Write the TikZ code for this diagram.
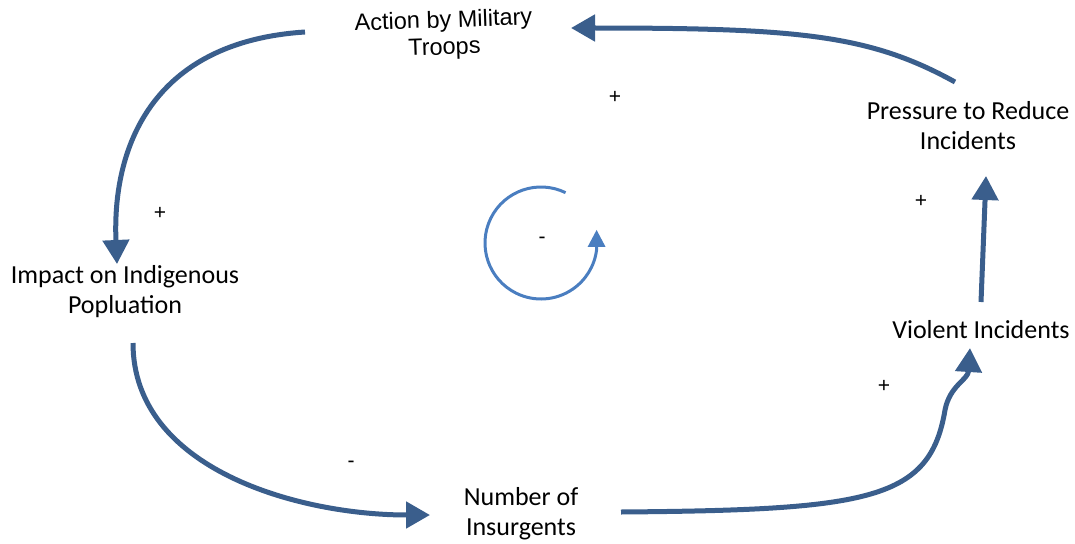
\documentclass[tikz,border=0pt]{standalone}
\usepackage{fontspec}
\setmainfont{Carlito}
\newfontfamily\arialfont{Liberation Sans}
\usetikzlibrary{arrows.meta}
\definecolor{linkblue}{RGB}{58,94,140}
\definecolor{loopblue}{RGB}{74,126,192}
\tikzset{
  var/.style={align=center,font=\fontsize{26}{30}\selectfont,inner sep=0pt},
  link/.style={line width=5pt,draw=linkblue,-{Triangle[length=24pt,width=26pt]}},
  pol/.style={font=\arialfont\fontsize{21}{22}\selectfont,inner sep=0pt}
}
\begin{document}
\begin{tikzpicture}[x=1pt,y=-1pt]
\useasboundingbox (0,0) rectangle (1075,543);
% variables
\node[var,font=\arialfont\fontsize{23.5}{27}\selectfont,rotate=2] (mil) at (444,35) {Action by Military\\Troops};
\node[var] (pres) at (968,126) {Pressure to Reduce\\Incidents};
\node[var] (viol) at (981,330) {Violent Incidents};
\node[var] (ins) at (521,514) {Number of\\Insurgents};
\node[var] (imp) at (125,292) {Impact on Indigenous\\Popluation};
% connector endpoints
\coordinate (a1) at (305,32);
\coordinate (b1) at (117,264);
\coordinate (a2) at (133,343);
\coordinate (b2) at (430,515);
\coordinate (a3) at (621,512);
\coordinate (b3) at (970,348);
\coordinate (a4) at (981,302);
\coordinate (b4) at (986,176);
\coordinate (a5) at (955,82);
\coordinate (b5) at (571,28);
% connectors
\draw[link] (a1) .. controls (150,42) and (112,150) .. (b1);
\draw[link] (a2) .. controls (133,470) and (300,515) .. (b2);
\draw[link] (a3) .. controls (870,510) and (930,500) .. (945,410) .. controls (950,385) and (968,380) .. (b3);
\draw[link] (a4) -- (b4);
\draw[link] (a5) .. controls (870,35) and (800,28) .. (b5);
% loop symbol
\coordinate (lc) at (541,243);
\draw[line width=3pt,draw=loopblue,-{Triangle[length=17pt,width=17pt]}] (lc) ++(-64:56) arc[start angle=-64,end angle=-353,radius=56] -- ++(0,-20);
% polarities
\node[pol] (p1) at (615,97) {+};
\node[pol] (p2) at (160,213) {+};
\node[pol] (p3) at (542,240) {-};
\node[pol] (p4) at (921,201) {+};
\node[pol] (p5) at (884,386) {+};
\node[pol] (p6) at (351,464) {-};
\end{tikzpicture}
\end{document}
